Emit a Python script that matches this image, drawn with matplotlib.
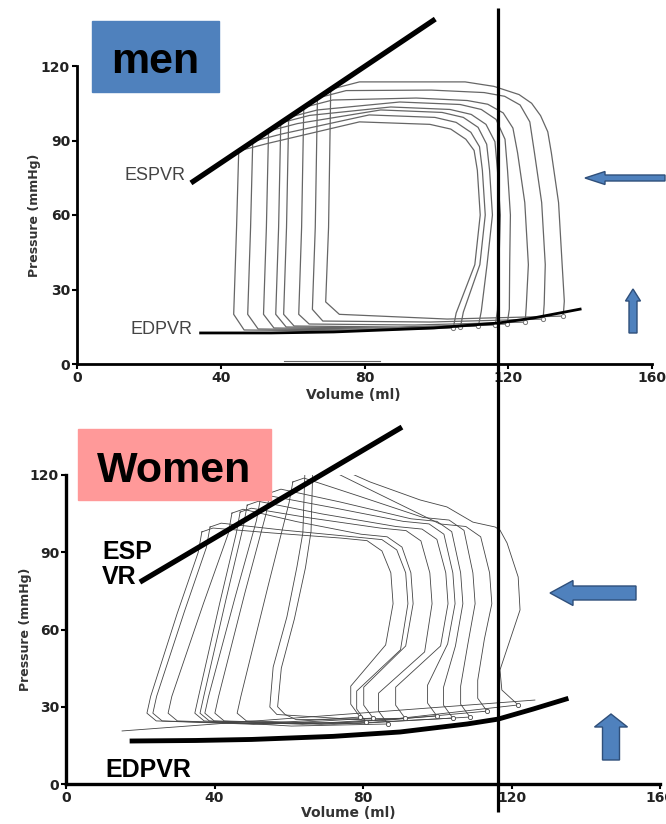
import matplotlib
matplotlib.use("Agg")
import matplotlib.pyplot as plt
from matplotlib.patches import Rectangle, FancyArrow

plt.rcParams["font.family"] = ["DejaVu Sans"]

# ---- axis ticks ----
vol_ticks = [0, 40, 80, 120, 160]
p_ticks = [0, 30, 60, 90, 120]

# ---- men: pressure-volume loops (volume ml, pressure mmHg) ----
men_loop_vol = [
    [45.0, 44.4, 43.6, 46.5, 74.9, 104.7, 105.5, 110.7, 112.2, 111.4, 110.5, 108.2, 104.0, 98.2, 78.6, 53.0],
    [48.9, 48.3, 47.5, 50.4, 77.8, 106.7, 107.5, 112.1, 113.6, 112.8, 112.0, 109.6, 105.5, 99.6, 81.3, 56.9],
    [53.3, 52.7, 51.9, 54.8, 82.5, 111.7, 112.5, 114.1, 115.6, 114.8, 114.0, 111.6, 107.5, 101.6, 84.5, 61.3],
    [56.7, 56.1, 55.3, 58.2, 86.6, 116.4, 117.0, 117.4, 117.8, 117.0, 116.3, 113.8, 109.7, 103.8, 87.3, 64.7],
    [58.9, 58.3, 57.5, 60.4, 89.3, 119.7, 120.3, 120.4, 120.6, 119.8, 119.1, 116.6, 112.5, 106.6, 89.8, 66.9],
    [63.1, 62.5, 61.7, 64.6, 93.9, 124.7, 125.0, 125.6, 124.6, 122.6, 121.3, 118.6, 114.3, 108.6, 94.4, 71.1],
    [66.9, 66.3, 65.5, 68.4, 98.3, 129.7, 130.0, 130.3, 129.3, 127.3, 126.0, 123.3, 119.0, 113.3, 98.6, 74.9],
    [70.6, 70.0, 69.2, 73.0, 103.0, 135.3, 135.6, 135.0, 134.0, 132.0, 131.0, 129.0, 126.5, 123.0, 116.0,
     108.0, 78.6],
]
men_loop_p = [
    [85.8, 55, 20, 13.7, 13.3, 14.5, 20.5, 40, 60, 78, 86.0, 90.5, 94.6, 96.5, 97.5, 88.8],
    [89.6, 55, 20, 14.1, 13.7, 14.9, 20.9, 40, 60, 78, 87.5, 93.3, 97.3, 99.3, 100.3, 92.6],
    [93.8, 55, 20, 14.5, 14.1, 15.3, 21.3, 40, 60, 78, 88.5, 95.3, 99.3, 101.3, 102.3, 96.8],
    [97.1, 55, 20, 14.9, 14.5, 15.7, 21.7, 40, 60, 78, 89.5, 96.5, 100.5, 102.5, 103.5, 100.1],
    [99.3, 55, 20, 15.3, 14.9, 16.1, 22.1, 40, 60, 78, 90.5, 98.5, 102.5, 104.5, 105.5, 102.3],
    [103.3, 55, 20, 16.1, 15.7, 16.9, 22.9, 40, 65, 85, 95.0, 101.1, 104.6, 106.1, 107.1, 106.3],
    [107.1, 55, 22, 17.3, 16.9, 18.1, 24.1, 40, 65, 85, 97.5, 104.3, 107.8, 109.3, 110.3, 110.1],
    [110.6, 55, 25, 20.0, 18.1, 19.3, 25.3, 40, 65, 85, 93.5, 100, 105.0, 108.5, 111.8, 113.6, 113.6],
]
men_edv = [104.7, 106.7, 111.7, 116.4, 119.7, 124.7, 129.7, 135.3]
men_edp = [14.5, 14.9, 15.3, 15.7, 16.1, 16.9, 18.1, 19.3]
men_espvr_vol = [31.7, 99.7]
men_espvr_p = [72.9, 138.9]
men_edpvr_vol = [34.4, 54, 71.4, 99.2, 117.2, 126.9, 140]
men_edpvr_p = [12.5, 12.5, 12.9, 14.5, 16.5, 18.5, 22.1]
men_stray_vol = [57.5, 84.4]
men_stray_p = [1.2, 1.2]

# ---- women ----
women_loop_vol = [
    [36.6, 35.6, 29.9, 22.8, 21.8, 24.3, 50.5, 79.2, 76.7, 76.7, 86.1, 88.1, 87.5, 85.1, 81.1, 74.1, 55.4, 39.6],
    [38.8, 37.8, 31.9, 24.4, 23.4, 25.9, 52.1, 80.8, 78.3, 78.3, 90.1, 92.1, 91.5, 89.1, 85.1, 78.1, 58.5, 41.8],
    [44.7, 43.7, 37.0, 28.5, 27.5, 30.0, 55.1, 82.7, 80.2, 80.2, 91.5, 93.5, 92.9, 90.5, 86.5, 79.5, 62.1, 47.7],
    [46.9, 45.9, 41.4, 35.7, 34.7, 37.2, 60.7, 86.7, 84.2, 84.2, 96.6, 98.6, 98.0, 95.6, 91.6, 84.6, 65.8, 49.9],
    [48.8, 47.8, 43.1, 37.1, 36.1, 38.6, 63.7, 91.3, 88.8, 88.8, 100.9, 102.9, 102.3, 99.9, 95.9, 88.9, 68.9, 51.8],
    [52.3, 51.3, 45.6, 38.4, 37.4, 39.9, 68.7, 99.9, 97.4, 97.4, 102.8, 104.8, 104.2, 101.8, 97.8, 90.8, 71.6, 55.3],
    [54.9, 53.9, 48.2, 41.1, 40.1, 42.6, 72.2, 104.2, 101.7, 101.7, 104.9, 106.9, 106.3, 103.9, 99.9, 92.9, 73.9, 57.9],
    [61.1, 60.1, 54.4, 47.1, 46.1, 48.6, 77.5, 108.8, 106.3, 106.3, 108.2, 110.2, 109.6, 107.2, 103.2, 96.2, 78.7, 64.1],
    [64.4, 63.8, 62.2, 59.5, 55.8, 54.9, 56.8, 84.2, 113.4, 110.9, 110.9, 112.7, 114.7, 114.1, 111.7, 107.7, 100.7, 82.6, 67.4],
    [66.5, 66.0, 64.5, 61.5, 58.0, 57.0, 59.0, 62.0, 90.0, 121.8, 117.4, 116.9, 122.3, 121.8, 118.8, 116.9, 115.6,
     109.6, 102.6, 95.4, 81.9, 73.0, 68.0],
]
women_loop_p = [
    [97.9, 89.9, 66.0, 34.0, 27.5, 24.5, 23.2, 26.0, 31.0, 38.0, 54.0, 70.0, 82.0, 90.5, 94.5, 95.5, 97.5, 99.4],
    [99.8, 91.8, 67.0, 34.0, 27.5, 24.5, 23.3, 24.1, 29.1, 36.1, 52.1, 70.0, 82.0, 90.9, 94.9, 95.9, 98.6, 101.3],
    [105.2, 97.2, 70.0, 34.0, 27.5, 24.5, 23.3, 25.6, 30.6, 37.6, 53.6, 70.0, 82.0, 92.0, 96.0, 97.0, 101.9, 106.7],
    [105.6, 97.6, 70.2, 34.0, 27.5, 24.5, 22.5, 23.3, 28.3, 35.3, 51.3, 70.0, 82.0, 94.4, 98.4, 99.4, 103.3, 107.1],
    [108.3, 100.3, 71.7, 34.0, 27.5, 24.5, 23.2, 25.6, 30.6, 37.6, 53.6, 70.0, 82.0, 95.0, 99.0, 100.0, 104.9, 109.8],
    [110.3, 102.3, 72.8, 34.0, 27.5, 24.5, 23.2, 26.4, 31.4, 38.4, 54.4, 70.0, 82.0, 97.0, 101.0, 102.0, 107.4, 111.8],
    [113.0, 105.0, 74.3, 34.0, 27.5, 24.5, 23.2, 25.6, 30.6, 37.6, 53.6, 70.0, 82.0, 98.0, 102.0, 103.0, 109.5, 114.5],
    [117.3, 109.3, 76.7, 34.0, 27.5, 24.5, 23.4, 26.0, 31.0, 38.0, 54.0, 70.0, 82.0, 98.5, 102.5, 103.5, 111.9, 118.8],
    [123.1, 97.5, 84.3, 64.9, 45.4, 29.9, 27.0, 24.5, 28.3, 33.3, 40.3, 56.3, 70.0, 82.0, 96.0, 100.0, 101.0, 113.8, 124.6],
    [123.9, 98.0, 84.0, 64.0, 45.0, 30.0, 27.0, 25.0, 25.5, 30.7, 36.5, 44.3, 67.6, 80.4, 93.6, 98.6, 99.8,
     101.7, 107.6, 110.3, 117.3, 123.0, 125.0],
]
women_edv = [79.2, 80.8, 82.7, 86.7, 91.3, 99.9, 104.2, 108.8, 113.4, 121.8]
women_edp = [26.0, 24.1, 25.6, 23.3, 25.6, 26.4, 25.6, 26.0, 28.3, 30.7]
women_espvr_vol = [19.9, 90.5]
women_espvr_p = [78.4, 138.6]
women_edpvr_vol = [17.8, 35, 50, 72, 90, 108, 116.4, 125.8, 134.7]
women_edpvr_p = [16.7, 16.9, 17.3, 18.5, 20.2, 23.3, 25.2, 29.1, 33.0]
women_fit_vol = [15.1, 126.3]
women_fit_p = [20.6, 32.6]

W, H = 666, 824
fig = plt.figure(figsize=(W / 100, H / 100), dpi=100)


def px_axes(left, right, bottom, top):
    return fig.add_axes([left / W, 1 - bottom / H, (right - left) / W, (bottom - top) / H])


def style_axes(ax, spine_w, ylab_x, xlab_xy):
    ax.set_xlim(0, 160)
    ax.set_ylim(0, 120)
    ax.set_xticks(vol_ticks)
    ax.set_yticks(p_ticks)
    ax.patch.set_visible(False)
    for s in ["top", "right"]:
        ax.spines[s].set_visible(False)
    for s in ["left", "bottom"]:
        ax.spines[s].set_linewidth(spine_w)
    ax.tick_params(direction="out", length=3.5, width=1.5, pad=1.5, labelsize=10, labelcolor="#222")
    for lab in ax.get_xticklabels() + ax.get_yticklabels():
        lab.set_fontweight("bold")
    ax.set_ylabel("Pressure (mmHg)", fontsize=9, fontweight="bold", color="#333")
    ax.set_xlabel("Volume (ml)", fontsize=10, fontweight="bold", color="#333")
    ax.yaxis.set_label_coords(ylab_x, 0.5)
    ax.xaxis.set_label_coords(*xlab_xy)


# ---- men panel ----
ax_m = px_axes(77, 652, 364, 66)
style_axes(ax_m, 2.0, -0.062, (0.48, -0.08))
for v, p in zip(men_loop_vol, men_loop_p):
    ax_m.plot(v + v[:1], p + p[:1], color="#666", lw=0.9)
ax_m.plot(men_edv, men_edp, "o", ms=3, mfc="white", mec="#777", mew=0.7)
ax_m.plot(men_stray_vol, men_stray_p, color="#666", lw=0.8)
ax_m.plot(men_espvr_vol, men_espvr_p, color="black", lw=3.8, clip_on=False, solid_capstyle="butt")
ax_m.plot(men_edpvr_vol, men_edpvr_p, color="black", lw=2.0, clip_on=False)

# ---- women panel ----
ax_w = px_axes(66, 660, 784, 475)
style_axes(ax_w, 2.4, -0.057, (0.476, -0.072))
for v, p in zip(women_loop_vol, women_loop_p):
    ax_w.plot(v + v[:1], p + p[:1], color="#444", lw=0.6)
ax_w.plot(women_edv, women_edp, "o", ms=3, mfc="white", mec="#444", mew=0.6)
ax_w.plot(women_fit_vol, women_fit_p, color="#444", lw=0.6)
ax_w.plot(women_espvr_vol, women_espvr_p, color="black", lw=3.8, clip_on=False, solid_capstyle="butt")
ax_w.plot(women_edpvr_vol, women_edpvr_p, color="black", lw=3.5, clip_on=False)

# ---- overlay in pixel coordinates: labels, boxes, arrows, marker line ----
ov = fig.add_axes([0, 0, 1, 1], zorder=10)
ov.set_xlim(0, W)
ov.set_ylim(H, 0)
ov.axis("off")
ov.patch.set_visible(False)

ov.plot([498, 498], [8, 812], color="black", lw=2.3, solid_capstyle="butt")

ov.add_patch(Rectangle((92, 21), 127, 71, color="#4F81BD"))
ov.text(155.5, 73, "men", family="Liberation Sans", fontweight="bold", fontsize=31,
        ha="center", va="baseline")
ov.add_patch(Rectangle((78, 429), 193, 71, color="#FF9999"))
ov.text(174, 482, "Women", family="Liberation Sans", fontweight="bold", fontsize=31,
        ha="center", va="baseline")

ov.text(124, 180, "ESPVR", family="Liberation Sans", fontsize=13, color="#444", va="baseline")
ov.text(130, 334, "EDPVR", family="Liberation Sans", fontsize=13, color="#444", va="baseline")
ov.text(102, 559, "ESP", family="Liberation Sans", fontweight="bold", fontsize=18, va="baseline")
ov.text(102, 584, "VR", family="Liberation Sans", fontweight="bold", fontsize=18, va="baseline")
ov.text(105, 777, "EDPVR", family="Liberation Sans", fontweight="bold", fontsize=18, va="baseline")

arrow_kw = dict(length_includes_head=True, fc="#4F81BD", ec="#2F4F7A", lw=1.0)
ov.add_patch(FancyArrow(665, 178, -80, 0, width=6, head_width=13, head_length=20, **arrow_kw))
ov.add_patch(FancyArrow(633, 333, 0, -44, width=8, head_width=15, head_length=12, **arrow_kw))
ov.add_patch(FancyArrow(636, 593, -86, 0, width=14, head_width=25, head_length=23, **arrow_kw))
ov.add_patch(FancyArrow(611, 760, 0, -46, width=17, head_width=33, head_length=13, **arrow_kw))

fig.savefig("out.png", dpi=100)
